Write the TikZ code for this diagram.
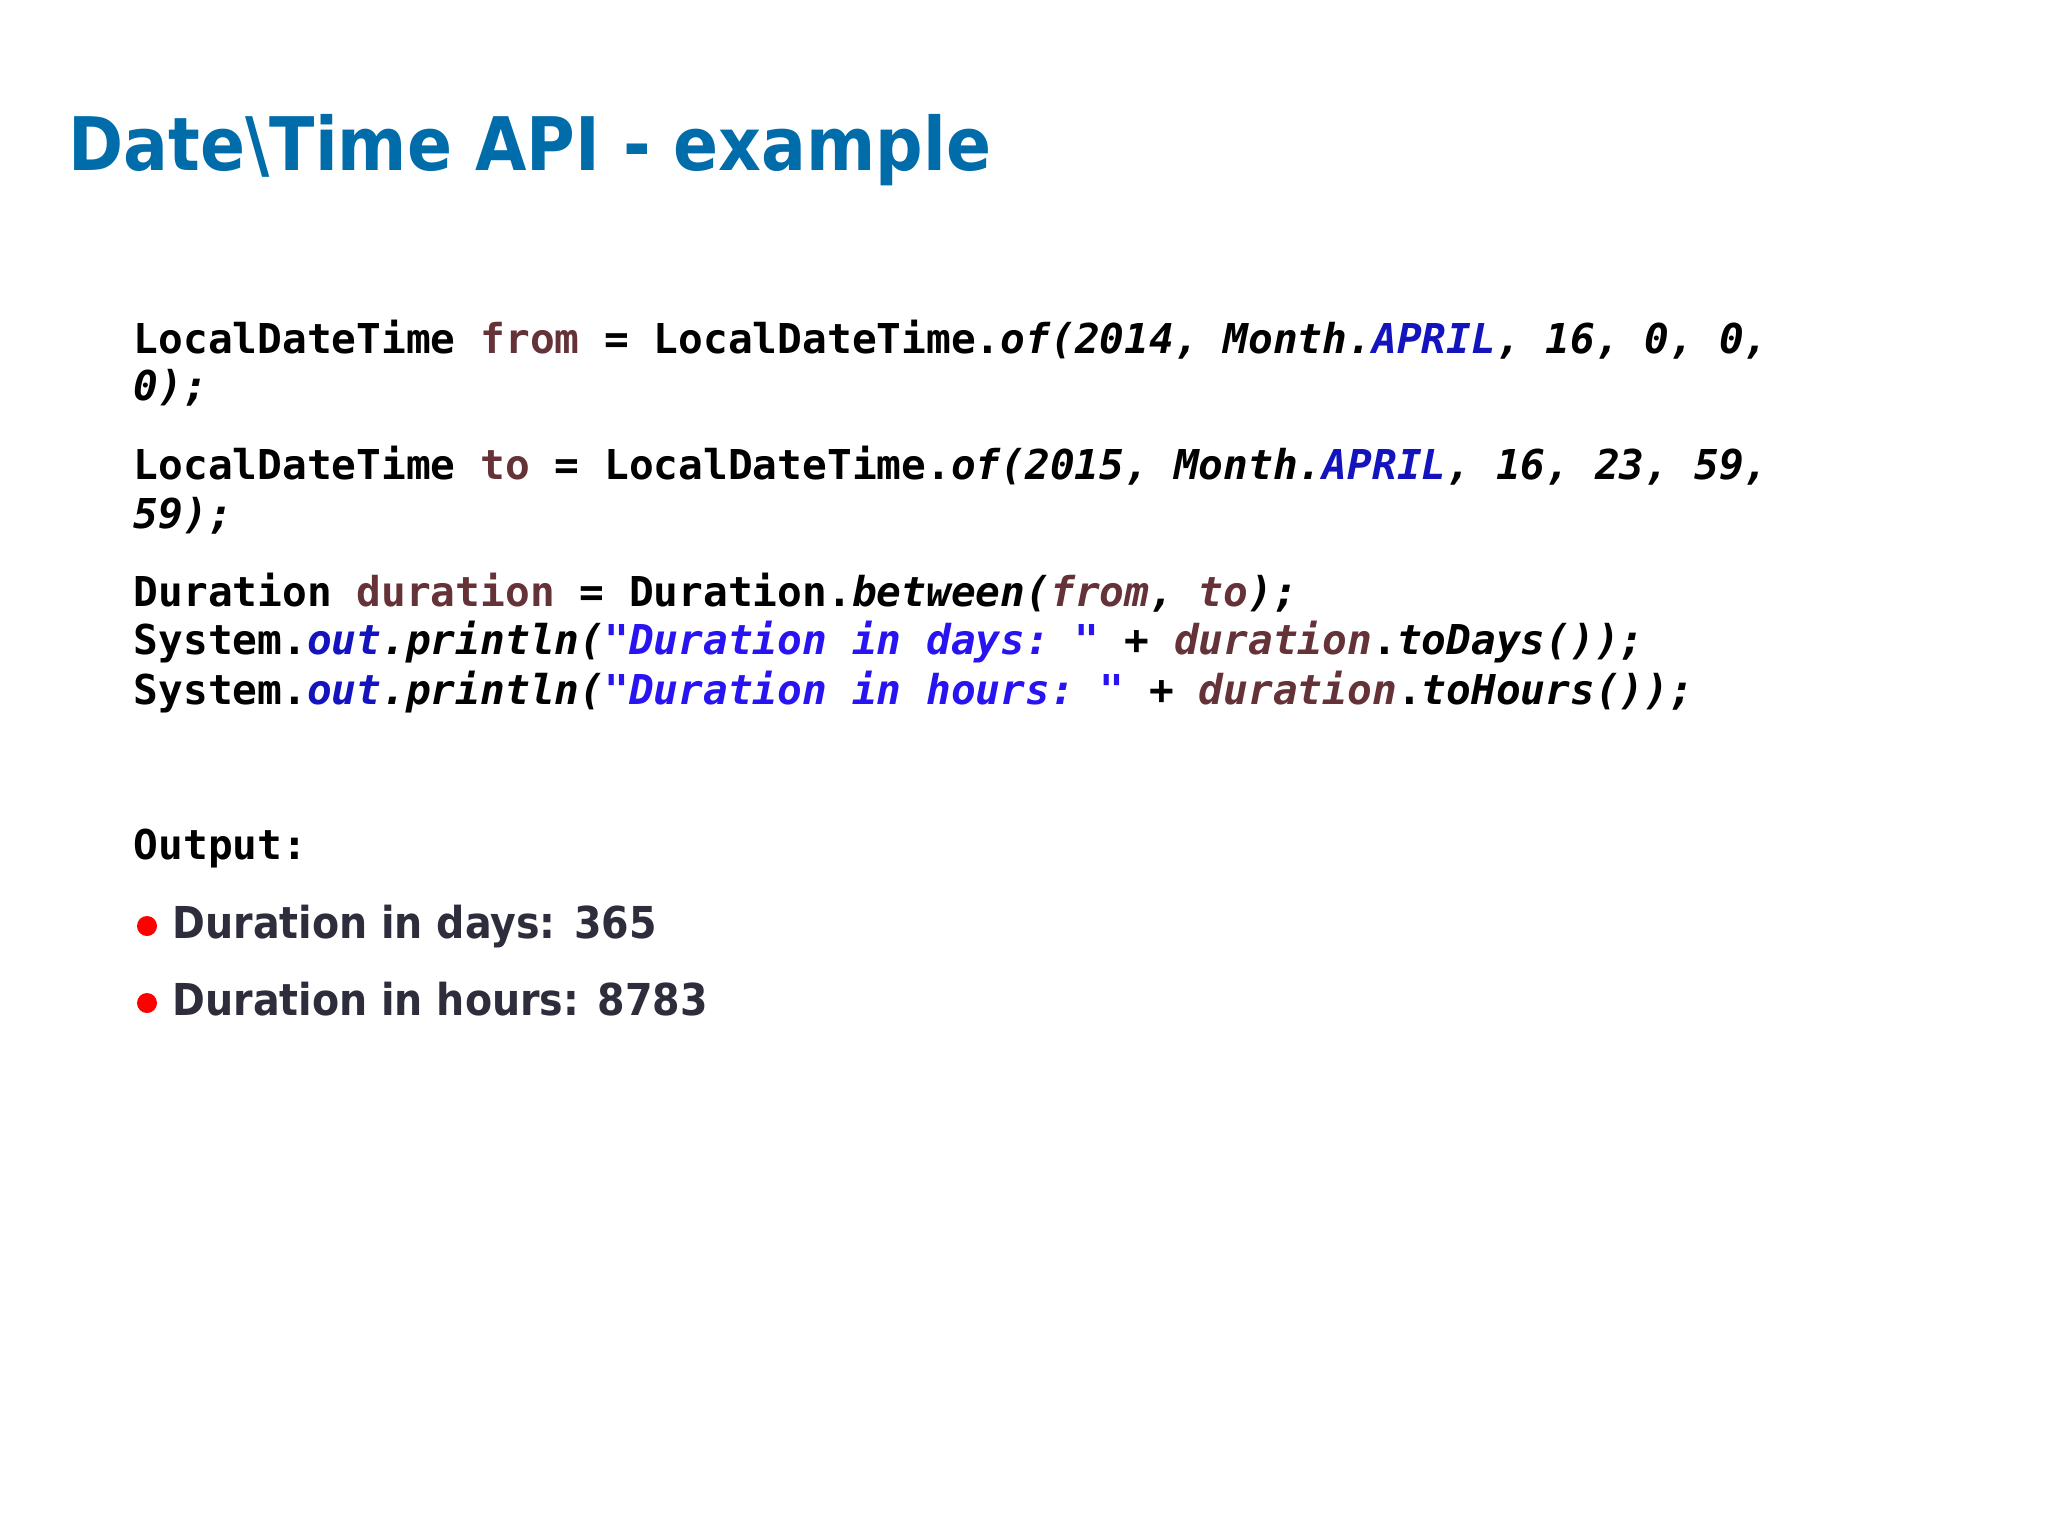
\documentclass[tikz,border=0pt]{standalone}
\usepackage{fontspec}
\setmainfont{DejaVu Sans}
\newfontfamily\cond{DejaVu Sans Condensed}
\setmonofont{DejaVu Sans Mono}
\definecolor{ttl}{RGB}{0,108,170}
\definecolor{idf}{RGB}{100,50,55}
\definecolor{kw}{RGB}{20,20,190}
\definecolor{str}{RGB}{40,20,240}
\definecolor{txt}{RGB}{45,45,60}
\newcommand{\vr}[1]{\textcolor{idf}{#1}}
\newcommand{\kwd}[1]{\textcolor{kw}{\itshape #1}}
\newcommand{\st}[1]{\textcolor{str}{\itshape #1}}
\begin{document}
\begin{tikzpicture}[x=0.01cm,y=-0.01cm,
  code/.style={anchor=base west,inner sep=0,font=\ttfamily\bfseries\fontsize{11.7}{14}\selectfont},
  outp/.style={anchor=base west,inner sep=0,text=txt,font=\cond\bfseries\fontsize{12.5}{15}\selectfont},
  dot/.style={circle,fill=red,inner sep=0,minimum size=0.2cm}]
\useasboundingbox (0,0) rectangle (2048,1536);
\fill[white] (0,0) rectangle (2048,1536);
\node[anchor=base west,inner sep=0,text=ttl,font=\cond\bfseries\fontsize{21}{25}\selectfont] (title) at (68,170) {Date\textbackslash Time API - example};
\node[code] (l1) at (133,353) {LocalDateTime \vr{from} = LocalDateTime.\textit{of(2014, Month.}\kwd{APRIL}\textit{, 16, 0, 0,}};
\node[code] (l2) at (133,400) {\textit{0);}};
\node[code] (l3) at (133,479) {LocalDateTime \vr{to} = LocalDateTime.\textit{of(2015, Month.}\kwd{APRIL}\textit{, 16, 23, 59,}};
\node[code] (l4) at (133,528) {\textit{59);}};
\node[code] (l5) at (133,606) {Duration \vr{duration} = Duration.\textit{between(}\vr{\itshape from}\textit{, }\vr{\itshape to}\textit{);}};
\node[code] (l6) at (133,654) {System.\kwd{out}\textit{.println(}\st{"Duration in days: "} \textit{+} \vr{\itshape duration}.\textit{toDays());}};
\node[code] (l7) at (133,704) {System.\kwd{out}\textit{.println(}\st{"Duration in hours: "} \textit{+} \vr{\itshape duration}.\textit{toHours());}};
\node[code] (out) at (133,859) {Output:};
\node[dot] (d1) at (147,926) {};
\node[outp] (o1) at (172,938) {Duration in days: 365};
\node[dot] (d2) at (147,1003) {};
\node[outp] (o2) at (172,1015) {Duration in hours: 8783};
\end{tikzpicture}
\end{document}
